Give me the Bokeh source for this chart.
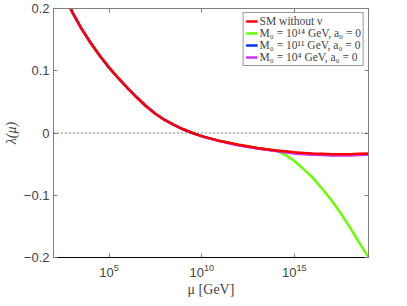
import numpy as np
from bokeh.plotting import figure
from bokeh.models import Range1d, FixedTicker, Span, LinearAxis, LogAxis, Legend, LegendItem
from bokeh.embed import file_html
from bokeh.resources import INLINE

# log10(mu / GeV)
log_mu = [2, 2.5, 3, 3.5, 4, 4.5, 5, 5.5, 6, 6.5, 7, 7.5, 8, 8.5, 9, 9.5, 10,
          11, 12, 13, 14, 14.5, 15, 15.5, 16, 16.5, 17, 17.5, 18, 18.5, 19]
lam_sm = [0.26, 0.228, 0.195, 0.168, 0.145, 0.124, 0.105, 0.088, 0.072, 0.057, 0.043,
          0.031, 0.021, 0.013, 0.006, 0.0, -0.005, -0.013, -0.019, -0.024, -0.028,
          -0.0295, -0.031, -0.032, -0.033, -0.0335, -0.034, -0.034, -0.034, -0.0335, -0.033]
lam_m14 = [0.26, 0.228, 0.195, 0.168, 0.145, 0.124, 0.105, 0.088, 0.072, 0.057, 0.043,
           0.031, 0.021, 0.013, 0.006, 0.0, -0.005, -0.013, -0.019, -0.024, -0.028,
           -0.035, -0.045, -0.058, -0.072, -0.0895, -0.108, -0.129, -0.152, -0.176, -0.200]
lam_m11 = [0.26, 0.228, 0.195, 0.168, 0.145, 0.124, 0.105, 0.088, 0.072, 0.057, 0.043,
           0.031, 0.021, 0.013, 0.006, 0.0, -0.005, -0.013, -0.0195, -0.0245, -0.0285,
           -0.030, -0.032, -0.033, -0.034, -0.0345, -0.035, -0.035, -0.035, -0.0345, -0.034]
lam_m4 = [0.26, 0.228, 0.195, 0.168, 0.145, 0.124, 0.105, 0.088, 0.072, 0.057, 0.043,
          0.031, 0.021, 0.013, 0.006, 0.0, -0.0055, -0.0135, -0.020, -0.025, -0.029,
          -0.031, -0.033, -0.034, -0.035, -0.0355, -0.036, -0.036, -0.036, -0.0355, -0.035]

labels = ["SM without \u03bd",
          "M\u2080 = 10\u00b9\u2074 GeV, a\u2080 = 0",
          "M\u2080 = 10\u00b9\u00b9 GeV, a\u2080 = 0",
          "M\u2080 = 10\u2074 GeV, a\u2080 = 0"]
colors = ["#ff0000", "#66ff00", "#0033ff", "#cc33ff"]

x_ticks = [1e5, 1e10, 1e15]
y_ticks = [-0.2, -0.1, 0, 0.1, 0.2]

mu = [10.0 ** v for v in log_mu]

p = figure(x_axis_type="log", frame_width=315, frame_height=249,
           x_range=Range1d(1e2, 1e19), y_range=Range1d(-0.2, 0.2),
           output_backend="svg", toolbar_location=None,
           min_border_left=40, min_border_right=30, min_border_top=8, min_border_bottom=10)
p.background_fill_color = "white"
p.grid.visible = False
p.outline_line_color = "#7f7f7f"

zero = Span(location=0, dimension="width", line_color="black", line_dash="1 3", line_width=1)
p.add_layout(zero)

r_green = p.line(mu, lam_m14, line_color=colors[1], line_width=2.5)
r_blue = p.line(mu, lam_m11, line_color=colors[2], line_width=2.5)
r_purple = p.line(mu, lam_m4, line_color=colors[3], line_width=2.5)
r_red = p.line(mu, lam_sm, line_color=colors[0], line_width=2.5)

legend = Legend(items=[LegendItem(label=labels[0], renderers=[r_red]),
                       LegendItem(label=labels[1], renderers=[r_green]),
                       LegendItem(label=labels[2], renderers=[r_blue]),
                       LegendItem(label=labels[3], renderers=[r_purple])],
                location="top_right")
legend.label_text_font = "Liberation Serif"
legend.label_text_font_size = "11.5px"
legend.label_text_line_height = 1.0
legend.border_line_color = "#333333"
legend.border_line_width = 1
legend.glyph_width = 12
legend.glyph_height = 12
legend.label_height = 12
legend.spacing = 0
legend.padding = 2
legend.margin = 4
legend.label_standoff = 2
legend.background_fill_alpha = 1
p.add_layout(legend)

xa = p.xaxis[0]
xa.ticker = FixedTicker(ticks=x_ticks)
xa.axis_label = "\u03bc [GeV]"
xa.axis_label_text_font = "Liberation Serif"
xa.axis_label_text_font_style = "normal"
xa.axis_label_text_font_size = "14px"
xa.axis_label_standoff = 2
xa.major_label_text_font = "Liberation Sans"
xa.major_label_text_font_size = "13px"
xa.major_label_standoff = 6
xa.axis_line_color = "black"
xa.major_tick_in = 4
xa.major_tick_out = 0
xa.major_tick_line_color = "#7f7f7f"
xa.minor_tick_line_color = None

ya = p.yaxis[0]
ya.ticker = FixedTicker(ticks=y_ticks)
ya.major_label_overrides = {-0.2: "\u22120.2", -0.1: "\u22120.1"}
ya.axis_label = "\u03bb(\u03bc)"
ya.axis_label_text_font = "Liberation Serif"
ya.axis_label_text_font_style = "italic"
ya.axis_label_text_font_size = "14px"
ya.axis_label_standoff = 2
ya.major_label_text_font = "Liberation Sans"
ya.major_label_text_font_size = "13px"
ya.major_label_standoff = 4
ya.axis_line_color = "#7f7f7f"
ya.major_tick_in = 4
ya.major_tick_out = 0
ya.major_tick_line_color = "#7f7f7f"
ya.minor_tick_line_color = None

ra = LinearAxis(ticker=FixedTicker(ticks=y_ticks), major_label_text_color=None,
                major_label_text_font_size="1px",
                major_tick_in=4, major_tick_out=0, minor_tick_line_color=None,
                axis_line_color="#7f7f7f", major_tick_line_color="#7f7f7f",
                major_label_standoff=0)
p.add_layout(ra, "right")
ta = LogAxis(ticker=FixedTicker(ticks=x_ticks), major_label_text_color=None,
             major_label_text_font_size="1px",
             major_tick_in=4, major_tick_out=0, minor_tick_line_color=None,
             axis_line_color="#7f7f7f", major_tick_line_color="#7f7f7f",
             major_label_standoff=0)
p.add_layout(ta, "above")

open("out.html", "w").write(file_html(p, INLINE))
